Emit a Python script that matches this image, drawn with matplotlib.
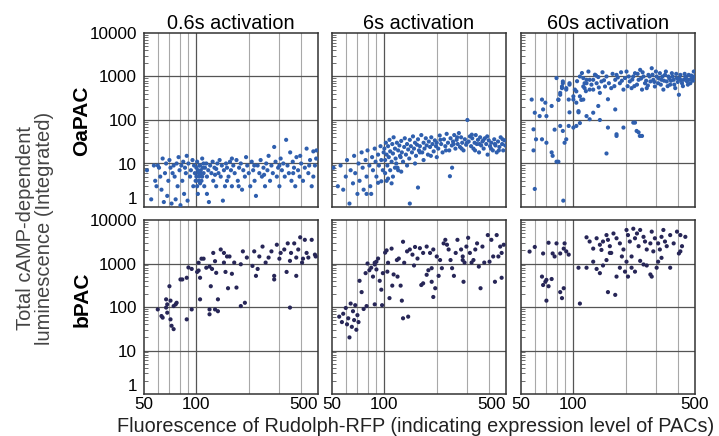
import numpy as np
import matplotlib.pyplot as plt
from matplotlib.ticker import FixedLocator, NullLocator, LogLocator

plt.rcParams['font.family'] = ['Liberation Sans', 'DejaVu Sans']

# (fluorescence, luminescence)
oapac_06 = [
    (52, 7), (55, 1.5), (57, 9), (58, 4), (59, 3), (60, 9), (61, 8), (62, 5), (63, 2.5), (64, 13),
    (65, 1.3), (66, 6), (67, 10), (68, 1.8), (69, 4), (70, 12), (71, 8), (72, 1.2), (73, 6), (74, 9),
    (75, 5), (76, 1.5), (77, 10), (78, 3), (79, 14), (80, 7), (81, 1.1), (82, 9), (83, 4), (84, 11),
    (85, 2), (86, 8), (87, 6), (88, 15), (89, 1.4), (90, 10), (92, 5), (93, 7), (95, 12), (96, 3),
    (97, 9), (98, 6), (99, 4), (100, 8), (100, 5), (101, 11), (101, 3), (102, 2), (102, 7), (103, 6),
    (103, 4), (104, 5), (104, 9), (105, 9), (105, 3.5), (106, 7), (106, 6), (107, 4), (108, 13), (108, 5),
    (109, 8), (110, 6), (111, 3), (112, 8), (114, 10), (115, 5), (117, 7), (118, 1.3), (120, 9), (122, 6),
    (124, 11), (125, 4), (127, 8), (130, 3), (132, 10), (134, 6), (136, 12), (138, 5), (140, 9), (142, 1.4),
    (144, 7), (146, 3), (148, 10), (150, 8), (153, 5), (156, 11), (158, 7), (160, 3), (163, 9), (166, 6),
    (170, 12), (173, 4), (176, 8), (180, 10), (183, 2.5), (186, 7), (190, 5), (193, 14), (196, 9), (200, 6),
    (204, 3), (208, 11), (212, 7), (216, 4), (220, 1.8), (225, 9), (230, 6), (234, 12), (238, 5), (243, 8),
    (248, 3), (252, 10), (256, 7), (260, 15), (265, 4), (270, 9), (275, 6), (280, 24), (285, 11), (290, 5),
    (295, 8), (300, 3), (305, 13), (310, 7), (316, 10), (322, 5), (328, 35), (334, 9), (340, 6), (346, 18),
    (352, 4), (358, 11), (364, 8), (370, 3), (376, 14), (384, 7), (392, 5), (400, 10), (410, 4), (420, 8),
    (430, 22), (440, 6), (450, 12), (460, 3), (470, 19), (480, 9), (488, 13), (115, 2), (128, 5.5), (150, 4),
    (175, 3), (215, 9), (245, 5.5), (300, 9), (360, 6), (395, 15), (445, 9), (490, 20), (470, 5), (130, 7.5),
    (110, 10), (160, 13),
]

oapac_6 = [
    (51, 8), (54, 3), (56, 9), (58, 2.5), (60, 5), (61, 12), (63, 1.2), (64, 7), (66, 3.5), (67, 15),
    (68, 6), (70, 2), (71, 10), (72, 4), (74, 18), (75, 8), (76, 2.5), (78, 12), (79, 5), (79, 2),
    (80, 20), (82, 9), (83, 3), (84, 2), (85, 14), (86, 7), (88, 22), (89, 11), (90, 5), (92, 16),
    (92, 3.6), (93, 9), (95, 25), (96, 12), (96, 3.9), (98, 7), (99, 18), (100, 22), (101, 12), (101, 6),
    (102, 30), (103, 16), (103, 4), (104, 9), (105, 25), (105, 4.5), (106, 14), (107, 35), (108, 19), (108, 7),
    (110, 11), (110, 3.5), (111, 28), (112, 17), (112, 5), (113, 40), (115, 22), (115, 8), (116, 13), (118, 30),
    (119, 8), (120, 20), (120, 7), (122, 26), (123, 15), (125, 33), (125, 6.5), (126, 18), (128, 11), (130, 24),
    (131, 38), (133, 16), (135, 28), (137, 21), (139, 13), (140, 35), (140, 1.2), (142, 25), (144, 18), (146, 42),
    (148, 22), (150, 30), (152, 15), (154, 27), (156, 36), (156, 2.8), (158, 20), (160, 25), (163, 45), (165, 18),
    (168, 30), (170, 22), (173, 38), (175, 26), (178, 16), (180, 32), (183, 24), (186, 40), (189, 28), (192, 19),
    (195, 34), (198, 25), (200, 30), (204, 22), (208, 44), (212, 28), (216, 18), (220, 36), (224, 25), (228, 48),
    (232, 30), (236, 20), (238, 5.1), (240, 38), (244, 26), (245, 8), (248, 32), (252, 45), (256, 22), (260, 35),
    (264, 28), (268, 50), (272, 24), (276, 40), (280, 30), (285, 20), (290, 36), (295, 27), (300, 100), (305, 32),
    (310, 42), (315, 25), (320, 38), (325, 22), (330, 30), (335, 45), (340, 28), (345, 35), (350, 18), (355, 40),
    (360, 26), (366, 32), (372, 22), (378, 38), (385, 28), (392, 16), (398, 34), (405, 25), (412, 30), (420, 20),
    (428, 36), (435, 26), (442, 18), (450, 32), (458, 24), (466, 40), (475, 28), (482, 20), (490, 34), (210, 35),
    (226, 20), (250, 28), (262, 40), (278, 22), (298, 30), (318, 46), (332, 20), (352, 28), (370, 34), (390, 42),
    (410, 22), (432, 28), (455, 20), (478, 36), (495, 26), (185, 15), (168, 12), (150, 10), (135, 9), (124, 14),
    (117, 10), (160, 18), (200, 14),
]

oapac_60 = [
    (57.6, 295), (60, 147), (59, 61), (61, 36), (59, 20), (60, 2.6), (87.5, 1.4), (66, 36), (70, 30), (75, 18),
    (76, 15), (80, 11), (82, 11), (78, 60), (84, 73), (87, 56), (89, 30), (91, 36), (94, 73), (95, 150),
    (80, 920), (82, 290), (84, 420), (86, 590), (87, 700), (91, 540), (95, 700), (100, 350), (102, 500), (104, 250),
    (107, 150), (109, 85), (111, 290), (114, 590), (116, 700), (119, 840), (124, 500), (130, 840), (136, 700), (139, 210),
    (142, 100), (158, 67), (155, 17), (177, 43), (221, 87), (231, 56), (241, 43), (174, 175), (194, 67), (226, 87),
    (237, 52), (248, 43), (177, 47), (124, 104), (130, 147), (119, 123), (104, 73), (107, 160), (100, 67), (100, 295),
    (94, 295), (95, 650), (91, 500), (87, 770), (86, 540), (84, 380), (82, 295), (75, 210), (70, 123), (69, 250),
    (67, 175), (66, 295), (64, 123), (109, 350), (114, 295), (116, 540), (104, 455), (109, 1000), (114, 920), (119, 700),
    (124, 840), (130, 500), (133, 1100), (139, 970), (142, 420), (145, 770), (152, 590), (158, 300), (165, 540), (174, 840),
    (177, 1090), (185, 700), (194, 500), (198, 920), (202, 1300), (211, 770), (216, 540), (221, 1000), (226, 1190), (232, 650),
    (237, 840), (242, 1420), (248, 500), (253, 1000), (258, 700), (264, 540), (270, 1090), (277, 770), (282, 1550), (288, 840),
    (294, 590), (301, 1000), (307, 700), (314, 1190), (321, 840), (329, 500), (336, 1090), (344, 770), (352, 1000), (360, 650),
    (368, 1190), (377, 840), (385, 540), (394, 920), (404, 380), (412, 1090), (421, 700), (431, 840), (440, 1000), (450, 770),
    (460, 1090), (470, 700), (481, 920), (492, 1300), (105, 780), (112, 1200), (118, 460), (122, 1300), (127, 650),
    (135, 1050), (140, 560), (147, 1250), (150, 820), (155, 1000), (160, 700), (168, 1150), (172, 600), (180, 950),
    (188, 1250), (190, 800), (205, 600), (208, 1000), (218, 850), (224, 600), (234, 1150), (245, 900), (250, 1250),
    (262, 800), (268, 620), (274, 1000), (285, 1100), (292, 750), (298, 1300), (310, 900), (318, 650), (325, 1000),
    (332, 800), (340, 1300), (348, 600), (356, 900), (364, 800), (372, 1000), (380, 650), (390, 1150), (398, 750),
    (408, 900), (416, 820), (426, 600), (436, 1150), (445, 900), (455, 650), (465, 850), (476, 1050), (486, 800),
    (495, 1000),
]

bpac_06 = [
    (60, 88), (63, 62), (64, 57), (67, 97), (68, 115), (70, 300), (68, 74), (71, 52), (72, 37), (74, 31),
    (71, 140), (74, 105), (76, 115), (77, 125), (67, 150), (81, 430), (83, 430), (88, 470), (90, 810), (94, 750),
    (88, 52), (94, 88), (101, 640), (103, 690), (105, 470), (103, 1040), (107, 1290), (110, 1290), (105, 150), (114, 800),
    (119, 850), (121, 300), (123, 750), (125, 1750), (128, 1130), (130, 610), (119, 88), (119, 68), (128, 88), (133, 150),
    (133, 80), (138, 2100), (144, 1750), (150, 1450), (144, 1050), (147, 640), (152, 270), (155, 1450), (160, 580), (165, 1050),
    (170, 280), (180, 960), (185, 1900), (180, 105), (190, 125), (195, 1370), (210, 880), (215, 1900), (220, 520), (225, 750),
    (230, 1450), (240, 2450), (250, 1050), (260, 1370), (270, 1900), (280, 430), (290, 2700), (300, 1290), (305, 1750), (320, 2100),
    (330, 640), (335, 2900), (345, 1150), (345, 97), (350, 1750), (365, 2900), (375, 1370), (375, 520), (385, 2100), (395, 4000),
    (405, 1050), (410, 1290), (420, 3500), (430, 1750), (440, 1370), (460, 3500), (480, 1600), (485, 1450), (280, 520),
]

bpac_6 = [
    (55, 60), (57, 45), (58, 70), (60, 95), (61, 40), (62, 55), (63, 20), (64, 120), (65, 35), (66, 80),
    (67, 50), (68, 110), (69, 30), (70, 65), (71, 45), (72, 400), (74, 220), (76, 90), (78, 600), (80, 1000),
    (82, 700), (84, 800), (86, 500), (88, 950), (90, 1100), (92, 1300), (94, 400), (96, 250), (97, 110), (98, 600),
    (79, 105), (88, 115), (90, 730), (88, 1040), (101, 1780), (103, 2000), (105, 1040), (110, 2200), (104, 650), (111, 310),
    (107, 160), (124, 310), (126, 140), (128, 55), (130, 1040), (119, 500), (113, 560), (121, 1300), (128, 3160), (160, 2250),
    (167, 1750), (175, 2450), (183, 1750), (191, 2100), (200, 1450), (209, 1200), (187, 780), (179, 700), (175, 550), (167, 350),
    (163, 320), (187, 380), (191, 170), (196, 270), (205, 520), (214, 780), (219, 2900), (224, 3500), (229, 2700), (234, 2100),
    (240, 1200), (245, 780), (251, 520), (257, 1750), (263, 3500), (276, 2100), (282, 1450), (289, 1050), (296, 2450), (303, 3900),
    (310, 1750), (317, 1050), (325, 1200), (285, 380), (282, 1200), (333, 2100), (341, 2900), (349, 850), (357, 270), (366, 2450),
    (375, 1050), (393, 4500), (402, 1100), (412, 3500), (422, 1450), (432, 380), (442, 4500), (452, 1450), (463, 2450), (485, 2700),
    (472, 1750), (472, 470), (137, 60), (140, 2100), (145, 1600), (150, 2400), (135, 1900), (118, 1200), (155, 1300), (148, 900),
]

bpac_60 = [
    (56, 1880), (60, 2400), (67, 1700), (72, 3000), (80, 2900), (78, 1450), (76, 1700), (84, 1700), (88, 2200), (91, 1900),
    (94, 1600), (89, 2900), (66, 500), (67, 320), (69, 380), (70, 420), (72, 300), (70, 140), (75, 440), (84, 220),
    (86, 160), (88, 270), (107, 800), (109, 120), (119, 800), (119, 4000), (124, 3200), (130, 2200), (136, 3800), (142, 2700),
    (145, 2050), (148, 3200), (155, 4500), (158, 3500), (162, 2500), (165, 1750), (170, 4900), (177, 3800), (185, 2900), (194, 2100),
    (202, 5900), (206, 4500), (211, 3200), (216, 1450), (221, 6300), (226, 3800), (232, 4900), (237, 2500), (242, 5900), (253, 4100),
    (258, 3200), (264, 2100), (277, 2900), (282, 5400), (288, 1900), (294, 3800), (307, 2900), (314, 2100), (321, 4100), (329, 5900),
    (336, 3200), (344, 2500), (360, 4500), (377, 2900), (394, 5400), (412, 4500), (421, 2500), (440, 4100), (412, 1900), (130, 1100),
    (136, 750), (142, 600), (148, 900), (155, 1200), (158, 220), (174, 190), (177, 500), (185, 800), (198, 650), (202, 1100),
    (206, 500), (216, 800), (226, 650), (242, 1150), (253, 950), (264, 900), (277, 560), (282, 500), (301, 800), (307, 1100),
    (321, 1350), (360, 800), (404, 1700), (190, 1450), (162, 1750),
]

titles = ['0.6s activation', '6s activation', '60s activation']
row_names = ['OaPAC', 'bPAC']
panels = [[oapac_06, oapac_6, oapac_60], [bpac_06, bpac_6, bpac_60]]
row_colors = ['#2f5fae', '#272657']

W, H = 719, 436
fig = plt.figure(figsize=(W / 100, H / 100), dpi=100)

col_left = [144, 332, 521]
row_top = [33, 220]
box = 174

for r in range(2):
    for c in range(3):
        ax = fig.add_axes([col_left[c] / W, 1 - (row_top[r] + box) / H, box / W, box / H])
        ax.set_xscale('log')
        ax.set_yscale('log')
        ax.set_xlim(50, 500)
        ax.set_ylim(1, 10000)

        pts = np.array(panels[r][c], dtype=float)
        ax.scatter(pts[:, 0], pts[:, 1], s=9, color=row_colors[r], edgecolors='none', zorder=3)

        # gridlines
        for v in [60, 70, 80, 90, 200, 300, 400]:
            ax.axvline(v, color='#a8a8a8', lw=0.8, zorder=1)
        ax.axvline(100, color='#555555', lw=0.9, zorder=1)
        for h in [10, 100, 1000]:
            ax.axhline(h, color='#555555', lw=0.9, zorder=1)

        for sp in ax.spines.values():
            sp.set_color('#333333')
            sp.set_linewidth(1.1)

        ax.xaxis.set_major_locator(FixedLocator([50, 100, 500]))
        ax.xaxis.set_minor_locator(NullLocator())
        ax.yaxis.set_major_locator(FixedLocator([1, 10, 100, 1000, 10000]))
        ax.yaxis.set_minor_locator(LogLocator(base=10, subs=np.arange(2, 10)))
        ax.yaxis.set_minor_formatter(plt.NullFormatter())
        ax.tick_params(axis='both', which='major', length=0, labelsize=12.3)
        ax.tick_params(axis='x', pad=2)
        ax.tick_params(axis='y', pad=5)
        ax.tick_params(axis='y', which='minor', direction='in', length=3, width=0.6, color='#555555')
        ax.tick_params(axis='x', which='minor', length=0)

        if c == 0:
            ylabs = ax.set_yticklabels(['1', '10', '100', '1000', '10000'])
            ylabs[0].set_va('bottom')  # "1" sits just above the bottom edge
        else:
            ax.set_yticklabels([])
        if r == 1:
            labs = ax.set_xticklabels(['50', '100', '500'])
            labs[2].set_ha('right' if c < 2 else 'center')
            if c == 2:
                labs[2].set_x(470)
        else:
            ax.set_xticklabels([])

        if r == 0:
            ax.set_title(titles[c], fontsize=14.3, pad=2)

fig.text(82 / W, 1 - 121 / H, row_names[0], rotation=90, ha='center', va='center',
         fontsize=15, fontweight='bold')
fig.text(82 / W, 1 - 299 / H, row_names[1], rotation=90, ha='center', va='center',
         fontsize=15, fontweight='bold')

fig.text(35 / W, 1 - 228 / H, 'Total cAMP-dependent\nluminescence (Integrated)', rotation=90,
         ha='center', va='center', multialignment='center', fontsize=14.5, color='#444444',
         linespacing=0.95)

fig.text(416 / W, 1 - 426 / H, 'Fluorescence of Rudolph-RFP (indicating expression level of PACs)',
         ha='center', va='center', fontsize=14.3, color='#222222')

fig.savefig('out.png', dpi=100)
